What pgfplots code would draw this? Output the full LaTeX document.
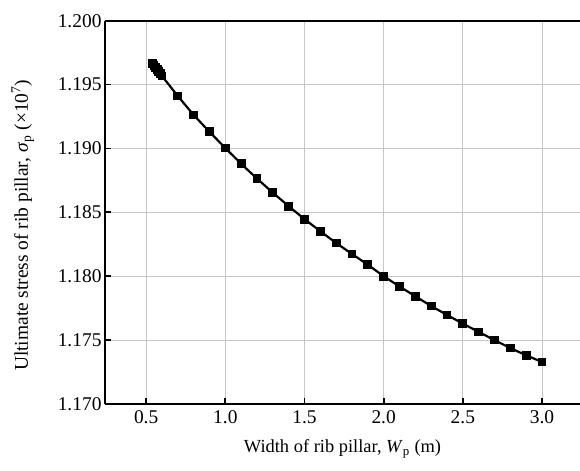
\documentclass[border=0pt]{standalone}
\usepackage{fontspec}
\setmainfont{Liberation Serif}
\usepackage{pgfplots}
\pgfplotsset{compat=1.18}
\begin{document}
\begin{tikzpicture}[font=\fontsize{19}{22}\selectfont]
\begin{axis}[
    name=ax,
    scale only axis,
    width=475bp, height=383.3bp,
    xmin=0.24, xmax=3.24,
    ymin=1.170, ymax=1.200,
    xtick={0.5,1.0,...,3.0},
    ytick={1.170,1.175,...,1.2001},
    axis lines=left,
    axis line style={-, line width=2.4pt},
    tick align=inside,
    major tick length=6pt,
    tick style={line width=1.8pt, black},
    grid=major,
    grid style={gray!45, line width=0.8pt},
    tick label style={font=\fontsize{19.5}{22}\selectfont},
    /pgf/number format/assume math mode=true,
    xticklabel style={yshift=-3pt, /pgf/number format/.cd, fixed, fixed zerofill, precision=1},
    yticklabel style={/pgf/number format/.cd, fixed, fixed zerofill, precision=3},
    xticklabel={\pgfmathprintnumber{\tick}},
    yticklabel={\pgfmathprintnumber{\tick}},
    xlabel={Width of rib pillar, \textit{W}\textsubscript{p} (m)},
    ylabel={Ultimate stress of rib pillar, \textit{σ}\textsubscript{p} (×10\textsuperscript{7})},
    xlabel style={font=\fontsize{18.5}{22}\selectfont, yshift=-9pt},
    ylabel style={font=\fontsize{19.5}{22}\selectfont, yshift=17pt, xshift=-13pt},
]
\addplot[black, line width=2.2pt, mark=square*, mark size=3.3pt] coordinates {
    (0.54,1.19665) (0.55,1.19650) (0.56,1.19633) (0.57,1.19617)
    (0.58,1.19600) (0.59,1.19584) (0.60,1.19567)
    (0.7,1.19410) (0.8,1.19262) (0.9,1.19130) (1.0,1.19003)
    (1.1,1.18880) (1.2,1.18764) (1.3,1.18654) (1.4,1.18548)
    (1.5,1.18447) (1.6,1.18352) (1.7,1.18260) (1.8,1.18174)
    (1.9,1.18090) (2.0,1.18000) (2.1,1.17920) (2.2,1.17843)
    (2.3,1.17767) (2.4,1.17697) (2.5,1.17629) (2.6,1.17564)
    (2.7,1.17500) (2.8,1.17438) (2.9,1.17381) (3.0,1.17329)
};
\draw[line width=2.4pt] (rel axis cs:0,1) -- (rel axis cs:1,1);
\end{axis}
\pgfresetboundingbox
\path[use as bounding box] ([xshift=-105bp,yshift=-67bp]ax.south west) rectangle ([yshift=20.7bp]ax.north east);
\end{tikzpicture}
\end{document}
